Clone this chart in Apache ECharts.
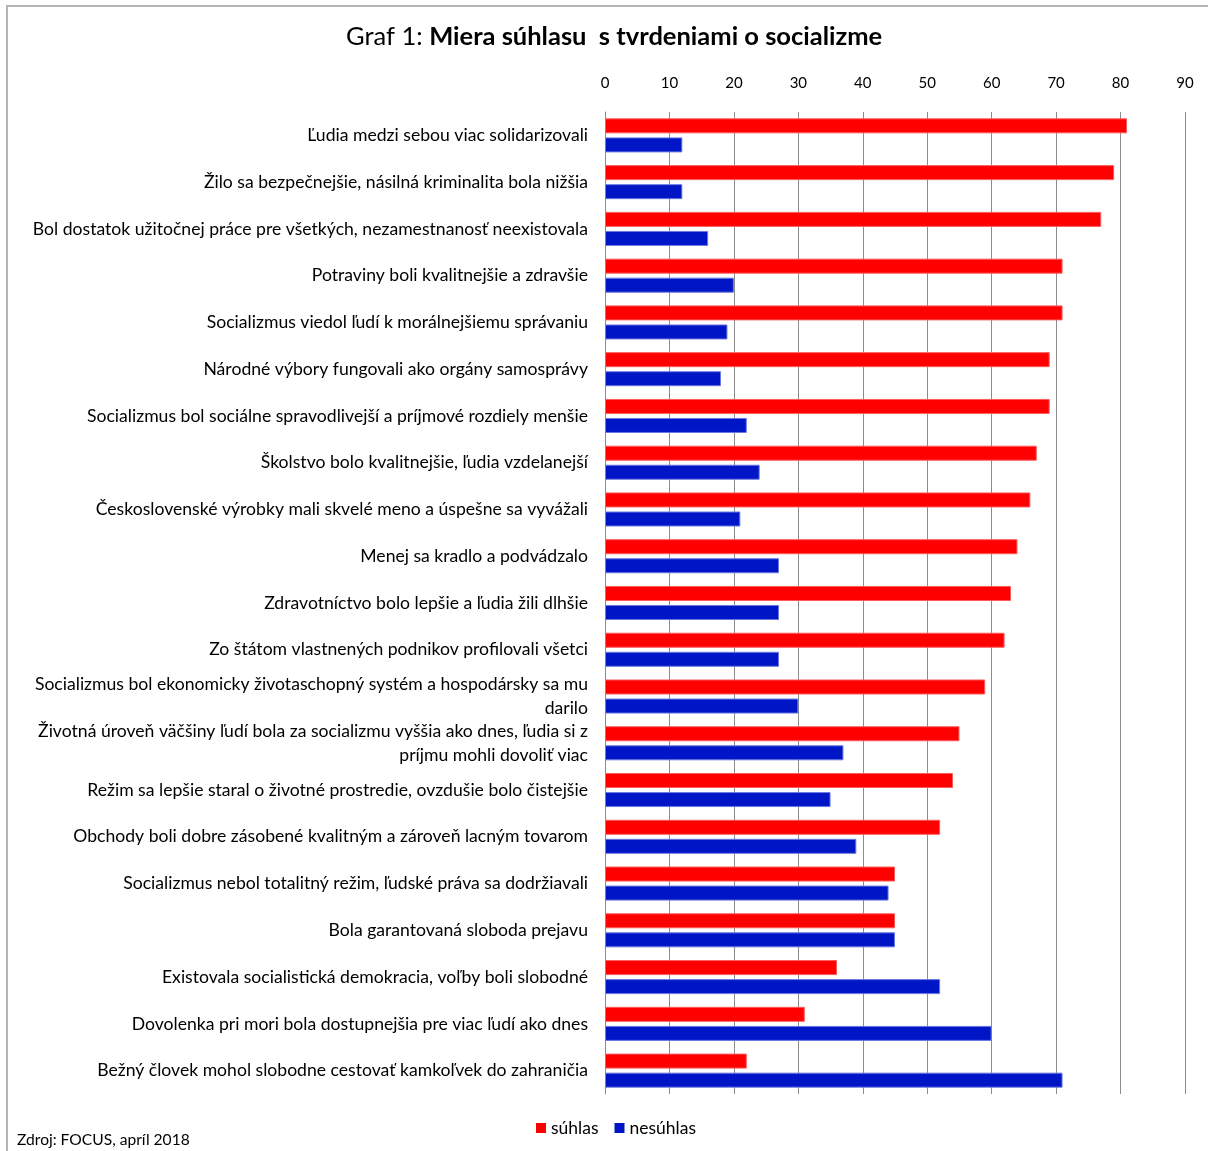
<!DOCTYPE html>
<html>
<head>
<meta charset="utf-8">
<script src="https://cdn.jsdelivr.net/npm/echarts@6/dist/echarts.min.js"></script>
<style>
html,body{margin:0;padding:0;background:#fff;}
#chart{width:1208px;height:1151px;}
</style>
</head>
<body>
<div id="chart"></div>
<script>
const categories = [
  "Ľudia medzi sebou viac solidarizovali",
  "Žilo sa bezpečnejšie, násilná kriminalita bola nižšia",
  "Bol dostatok užitočnej práce pre všetkých, nezamestnanosť neexistovala",
  "Potraviny boli kvalitnejšie a zdravšie",
  "Socializmus viedol ľudí k morálnejšiemu správaniu",
  "Národné výbory fungovali ako orgány samosprávy",
  "Socializmus bol sociálne spravodlivejší a príjmové rozdiely menšie",
  "Školstvo bolo kvalitnejšie, ľudia vzdelanejší",
  "Československé výrobky mali skvelé meno a úspešne sa vyvážali",
  "Menej sa kradlo a podvádzalo",
  "Zdravotníctvo bolo lepšie a ľudia žili dlhšie",
  "Zo štátom vlastnených podnikov profilovali všetci",
  "Socializmus bol ekonomicky životaschopný systém a hospodársky sa mu\ndarilo",
  "Životná úroveň väčšiny ľudí bola za socializmu vyššia ako dnes, ľudia si z\npríjmu mohli dovoliť viac",
  "Režim sa lepšie staral o životné prostredie, ovzdušie bolo čistejšie",
  "Obchody boli dobre zásobené kvalitným a zároveň lacným tovarom",
  "Socializmus nebol totalitný režim, ľudské práva sa dodržiavali",
  "Bola garantovaná sloboda prejavu",
  "Existovala socialistická demokracia, voľby boli slobodné",
  "Dovolenka pri mori bola dostupnejšia pre viac ľudí ako dnes",
  "Bežný človek mohol slobodne cestovať kamkoľvek do zahraničia"
];
const suhlas   = [81, 79, 77, 71, 71, 69, 69, 67, 66, 64, 63, 62, 59, 55, 54, 52, 45, 45, 36, 31, 22];
const nesuhlas = [12, 12, 16, 20, 19, 18, 22, 24, 21, 27, 27, 27, 30, 37, 35, 39, 44, 45, 52, 60, 71];
const seriesNames = ["súhlas", "nesúhlas"];
const titleMain = "Graf 1: ";
const titleBold = "Miera súhlasu  s tvrdeniami o socializme";
const sourceText = "Zdroj: FOCUS, apríl 2018";

const FONT = "Lato";
const chart = echarts.init(document.getElementById('chart'));
chart.setOption({
  backgroundColor: '#ffffff',
  animation: false,
  title: {
    text: '{n|' + titleMain + '}{b|' + titleBold + '}',
    left: 341,
    top: 19,
    textStyle: {
      rich: {
        n: { fontFamily: FONT, fontSize: 25.5, color: '#000', fontWeight: 'normal' },
        b: { fontFamily: FONT, fontSize: 25.5, color: '#000', fontWeight: 'bold' }
      }
    }
  },
  legend: {
    data: seriesNames,
    bottom: 9,
    left: 531,
    icon: 'rect',
    itemWidth: 10,
    itemHeight: 10,
    itemGap: 16,
    itemStyle: { borderWidth: 0 },
    textStyle: { fontFamily: FONT, fontSize: 17.5, color: '#000' }
  },
  grid: { left: 605, right: 23, top: 112, bottom: 57, containLabel: false },
  xAxis: {
    type: 'value',
    position: 'top',
    min: 0, max: 90, interval: 10,
    axisLine: { show: false },
    axisTick: { show: false },
    axisLabel: { margin: 21, fontFamily: FONT, fontSize: 15, color: '#000' },
    splitLine: { show: true, lineStyle: { color: '#8c8c8c', width: 1 } }
  },
  yAxis: {
    type: 'category',
    data: categories,
    inverse: true,
    axisLine: { show: true, lineStyle: { color: '#8c8c8c', width: 1 } },
    axisTick: { show: false },
    axisLabel: { margin: 17, fontFamily: FONT, fontSize: 17.6, color: '#000', lineHeight: 24, align: 'right' }
  },
  series: [
    {
      name: seriesNames[0], type: 'bar', data: suhlas,
      barWidth: 15, barGap: '27%',
      itemStyle: { color: '#ff0000', borderColor: '#ff5a5a', borderWidth: 1 }
    },
    {
      name: seriesNames[1], type: 'bar', data: nesuhlas,
      barWidth: 15, barGap: '27%',
      itemStyle: { color: '#0016c6', borderColor: '#6a78e0', borderWidth: 1 }
    }
  ],
  graphic: [
    { type: 'line', shape: { x1: 7, y1: 5, x2: 7, y2: 1151 }, style: { stroke: '#b4b4b4', lineWidth: 2 } },
    { type: 'line', shape: { x1: 6, y1: 6, x2: 1208, y2: 6 }, style: { stroke: '#b4b4b4', lineWidth: 2 } },
    { type: 'text', left: 17, top: 1132, style: { text: sourceText, font: '15.6px ' + FONT, fill: '#000' } }
  ]
});
</script>
</body>
</html>
